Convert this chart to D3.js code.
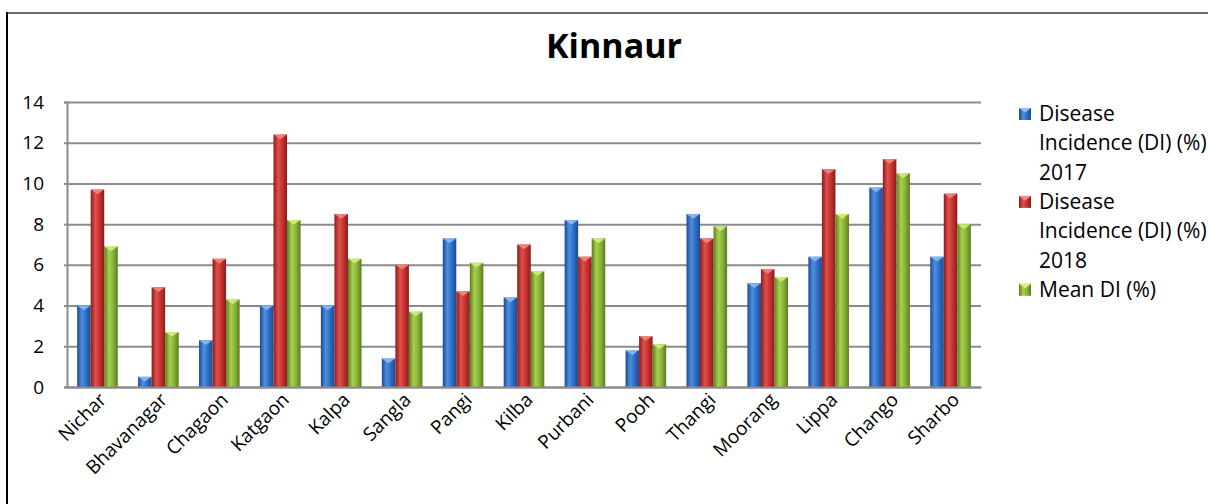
<!DOCTYPE html>
<html>
<head>
<meta charset="utf-8">
<script src="https://cdn.jsdelivr.net/npm/d3@7"></script>
<style>
  html, body { margin: 0; padding: 0; background: #fff; }
  svg { display: block; }
  text { font-family: "Open Sans", "DejaVu Sans", sans-serif; fill: #000; }
</style>
</head>
<body>
<svg id="chart" width="1208" height="504"></svg>
<script>
const categories = ["Nichar","Bhavanagar","Chagaon","Katgaon","Kalpa","Sangla","Pangi","Kilba","Purbani","Pooh","Thangi","Moorang","Lippa","Chango","Sharbo"];
const seriesNames = ["Disease Incidence (DI) (%) 2017","Disease Incidence (DI) (%) 2018","Mean DI (%)"];
const legendLines = [["Disease","Incidence (DI) (%)","2017"],["Disease","Incidence (DI) (%)","2018"],["Mean DI (%)"]];
const di2017 = [4.0, 0.5, 2.3, 4.0, 4.0, 1.4, 7.3, 4.4, 8.2, 1.8, 8.5, 5.1, 6.4, 9.8, 6.4];
const di2018 = [9.7, 4.9, 6.3, 12.4, 8.5, 6.0, 4.7, 7.0, 6.4, 2.5, 7.3, 5.8, 10.7, 11.2, 9.5];
const meanDI = [6.9, 2.7, 4.3, 8.2, 6.3, 3.7, 6.1, 5.7, 7.3, 2.1, 7.9, 5.4, 8.5, 10.5, 8.0];
const yTicks = [0, 2, 4, 6, 8, 10, 12, 14];
const titleText = "Kinnaur";

const seriesValues = [di2017, di2018, meanDI];
const palette = [
  {dark: "#1d4a92", light: "#4f8fe0", main: "#2f6fc6", top: "#8ec0f5"},
  {dark: "#8a1c1a", light: "#e0504c", main: "#c63330", top: "#f58a86"},
  {dark: "#5b7d1f", light: "#a8d04e", main: "#8ab43a", top: "#d4f080"}
];

const svg = d3.select("#chart");
const defs = svg.append("defs");
palette.forEach((p, i) => {
  const g = defs.append("linearGradient").attr("id", "grad" + i)
    .attr("x1", 0).attr("x2", 1).attr("y1", 0).attr("y2", 0);
  g.append("stop").attr("offset", "0%").attr("stop-color", p.dark);
  g.append("stop").attr("offset", "35%").attr("stop-color", p.light);
  g.append("stop").attr("offset", "65%").attr("stop-color", p.main);
  g.append("stop").attr("offset", "100%").attr("stop-color", p.dark);
});

// frame
svg.append("line").attr("x1", 7).attr("x2", 1208).attr("y1", 13).attr("y2", 13)
  .attr("stroke", "#6a6a6a").attr("stroke-width", 2);
svg.append("line").attr("x1", 7).attr("x2", 7).attr("y1", 12).attr("y2", 504)
  .attr("stroke", "#000").attr("stroke-width", 2);

const x = d3.scaleBand().domain(categories).range([67, 981]).paddingInner(1/3).paddingOuter(1/6);
const xs = d3.scaleBand().domain(d3.range(seriesValues.length)).range([0, x.bandwidth()]);
const y = d3.scaleLinear().domain([0, 14]).range([387, 102]);

// title
svg.append("text").attr("x", 614).attr("y", 58).attr("text-anchor", "middle")
  .attr("font-size", 34).attr("font-weight", "bold").text(titleText);

// gridlines
const gridG = svg.append("g").attr("transform", "translate(67,0)")
  .call(d3.axisLeft(y).tickValues(yTicks).tickSize(-(981 - 67)).tickFormat(""));
gridG.select(".domain").remove();
gridG.selectAll(".tick line").attr("stroke", "#8c8c8c").attr("stroke-width", 2);

// y axis labels
const yAxisG = svg.append("g").attr("transform", "translate(67,0)")
  .call(d3.axisLeft(y).tickValues(yTicks).tickSize(3).tickPadding(20).tickFormat(d3.format("d")));
yAxisG.select(".domain").attr("stroke", "#8c8c8c").attr("stroke-width", 2);
yAxisG.selectAll(".tick line").attr("stroke", "#8c8c8c").attr("stroke-width", 2);
yAxisG.selectAll(".tick text").attr("font-size", 19).attr("font-family", "Open Sans").attr("fill", "#000");

// bars
const groups = svg.append("g").selectAll("g").data(categories).join("g")
  .attr("transform", d => `translate(${x(d)},0)`);
seriesValues.forEach((vals, si) => {
  const w = xs.bandwidth();
  groups.append("rect")
    .attr("x", xs(si)).attr("width", w)
    .attr("y", (d, i) => y(vals[i]))
    .attr("height", (d, i) => y(0) - y(vals[i]))
    .attr("fill", `url(#grad${si})`);
  groups.append("path")
    .attr("d", (d, i) => {
      const top = y(vals[i]);
      const x0 = xs(si);
      return `M${x0},${top}L${x0 + w},${top}L${x0 + w / 2},${top + w * 0.35}Z`;
    })
    .attr("fill", palette[si].top).attr("opacity", 0.85);
});

// x axis
const xAxisG = svg.append("g").attr("transform", "translate(0,387)")
  .call(d3.axisBottom(x).tickSize(0).tickPadding(0));
xAxisG.select(".domain").attr("stroke", "#8c8c8c").attr("stroke-width", 2);
xAxisG.selectAll(".tick text")
  .attr("font-size", 19).attr("font-family", "Open Sans").attr("fill", "#000")
  .attr("text-anchor", "end").attr("dy", 0)
  .attr("transform", "translate(10,14) rotate(-45)");

// legend
const legend = svg.append("g");
let lineIdx = 0;
legendLines.forEach((lines, si) => {
  const baseY = 121 + lineIdx * 29.3;
  const mx = 1019, my = baseY - 13, ms = 12;
  legend.append("rect").attr("x", mx).attr("y", my).attr("width", ms).attr("height", ms)
    .attr("fill", `url(#grad${si})`);
  legend.append("path")
    .attr("d", `M${mx},${my}L${mx + ms},${my}L${mx + ms / 2},${my + ms * 0.4}Z`)
    .attr("fill", palette[si].top);
  lines.forEach((ln, li) => {
    legend.append("text").attr("x", 1039).attr("y", 121 + (lineIdx + li) * 29.3)
      .attr("font-size", 21).text(ln);
  });
  lineIdx += lines.length;
});
</script>
</body>
</html>
